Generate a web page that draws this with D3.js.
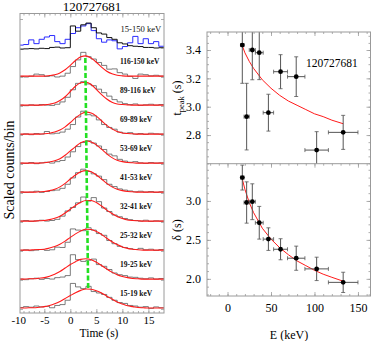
<!DOCTYPE html>
<html><head><meta charset="utf-8">
<script src="https://cdn.jsdelivr.net/npm/d3@7/dist/d3.min.js"></script>
<style>
body{margin:0;background:#fff;}
svg{display:block;}
svg text{font-family:"Liberation Serif","DejaVu Serif",serif !important;}
</style></head><body>
<svg id="chart" width="372" height="341"></svg>
<script>
// ---------------- DATA ----------------
const burstName = "120727681";
const bandLabels = ["15-19 keV","19-25 keV","25-32 keV","32-41 keV","41-53 keV","53-69 keV","69-89 keV","89-116 keV","116-150 keV"];
const totalLabel = "15-150 keV";
const binStarts = d3.range(-10, 18);          // 1 s bins, -10 .. 17
const modelT = d3.range(-10, 19);             // model curve sample times

// light curves (scaled counts per bin), bins -10..17
const hist15_19  = [0.05,0.08,0.06,0.10,0.07,0.09,0.04,0.12,0.15,0.30,0.88,0.76,0.70,0.78,0.60,0.55,0.50,0.40,0.30,0.22,0.19,0.12,0.10,0.06,0.08,0.02,0.07,0.04];
const hist19_25  = [0.03,0.01,0.04,0.06,0.02,0.05,0.03,0.08,0.10,0.15,0.87,0.70,0.64,0.68,0.72,0.53,0.47,0.36,0.24,0.18,0.15,0.10,0.09,0.06,0.04,0.07,0.03,0.05];
const hist25_32  = [0.02,0.04,0.01,0.03,0.05,0.02,0.04,0.13,0.12,0.30,0.76,0.72,0.70,0.80,0.72,0.60,0.54,0.36,0.25,0.16,0.12,0.08,0.05,0.09,0.04,0.06,0.02,0.05];
const hist32_41  = [0.03,0.05,0.02,0.04,0.06,0.03,0.05,0.09,0.20,0.38,0.50,0.66,0.86,0.72,0.84,0.70,0.48,0.36,0.24,0.18,0.12,0.08,0.05,0.03,0.06,0.02,0.04,0.03];
const hist41_53  = [0.04,0.02,0.03,0.06,0.02,0.05,0.08,0.10,0.16,0.30,0.52,0.70,0.82,0.74,0.66,0.58,0.46,0.30,0.22,0.14,0.10,0.07,0.04,0.06,0.03,0.05,0.02,0.04];
const hist53_69  = [0.03,0.02,0.05,0.01,0.04,0.06,0.03,0.08,0.12,0.24,0.42,0.60,0.74,0.80,0.72,0.62,0.50,0.34,0.28,0.16,0.10,0.06,0.08,0.04,0.02,0.05,0.03,0.04];
const hist69_89  = [0.02,0.04,0.01,0.05,0.03,0.12,0.04,0.06,0.10,0.20,0.36,0.62,0.82,0.70,0.66,0.52,0.36,0.26,0.20,0.10,0.06,0.08,0.03,0.05,0.02,0.06,0.04,0.03];
const hist89_116 = [0.03,0.01,0.04,0.02,0.05,0.03,0.02,0.06,0.14,0.30,0.56,0.78,0.84,0.76,0.70,0.58,0.46,0.34,0.22,0.14,0.08,0.05,0.07,0.02,0.04,0.06,0.03,0.05];
const hist116_150= [0.02,0.00,0.03,0.10,0.08,0.02,0.04,0.00,0.03,0.13,0.36,0.59,0.85,0.70,0.62,0.50,0.40,0.27,0.28,0.15,0.10,0.02,-0.05,0.10,0.08,0.04,0.06,0.03];
const histTotalBlack = [-0.04,-0.03,-0.02,-0.03,-0.01,-0.02,0.02,0.03,0.00,0.01,0.76,0.58,0.80,0.86,0.70,0.52,0.48,0.36,0.30,0.18,0.14,0.08,0.06,0.05,0.02,0.02,0.00,0.01];
const histTotalBlue  = [0.10,0.12,0.28,0.15,0.30,0.38,0.43,0.22,0.15,0.30,0.50,0.70,0.76,0.84,0.60,0.32,0.20,0.28,0.25,-0.03,0.05,0.18,0.40,0.15,0.32,0.15,0.22,0.06];

// pulse model curves, t = -10..18
const model15_19  = [0.03,0.03,0.04,0.04,0.06,0.08,0.12,0.18,0.26,0.36,0.46,0.56,0.64,0.69,0.68,0.63,0.55,0.44,0.34,0.24,0.17,0.11,0.08,0.05,0.04,0.03,0.03,0.03,0.03];
const model19_25  = [0.03,0.03,0.04,0.04,0.06,0.08,0.13,0.20,0.29,0.41,0.53,0.63,0.71,0.73,0.70,0.61,0.50,0.38,0.27,0.18,0.12,0.08,0.05,0.04,0.03,0.03,0.03,0.03,0.03];
const model25_32  = [0.03,0.03,0.03,0.04,0.05,0.06,0.10,0.15,0.23,0.34,0.47,0.59,0.69,0.75,0.74,0.67,0.57,0.44,0.32,0.22,0.14,0.09,0.06,0.04,0.03,0.03,0.03,0.03,0.03];
const model32_41  = [0.03,0.03,0.03,0.03,0.04,0.05,0.08,0.13,0.20,0.31,0.44,0.57,0.68,0.74,0.74,0.67,0.55,0.41,0.29,0.19,0.12,0.07,0.05,0.04,0.03,0.03,0.03,0.03,0.03];
const model41_53  = [0.03,0.03,0.03,0.03,0.04,0.05,0.08,0.13,0.21,0.33,0.48,0.62,0.73,0.77,0.73,0.62,0.48,0.33,0.21,0.13,0.08,0.05,0.04,0.03,0.03,0.03,0.03,0.03,0.03];
const model53_69  = [0.03,0.03,0.03,0.03,0.03,0.04,0.07,0.11,0.18,0.30,0.45,0.60,0.73,0.79,0.76,0.66,0.51,0.35,0.22,0.13,0.08,0.05,0.04,0.03,0.03,0.03,0.03,0.03,0.03];
const model69_89  = [0.03,0.03,0.03,0.03,0.03,0.04,0.06,0.10,0.17,0.28,0.43,0.59,0.72,0.79,0.76,0.65,0.49,0.33,0.21,0.12,0.07,0.05,0.04,0.03,0.03,0.03,0.03,0.03,0.03];
const model89_116 = [0.03,0.03,0.03,0.03,0.03,0.04,0.06,0.10,0.19,0.32,0.50,0.68,0.80,0.82,0.74,0.57,0.39,0.24,0.13,0.07,0.05,0.04,0.03,0.03,0.03,0.03,0.03,0.03,0.03];
const model116_150= [0.03,0.03,0.03,0.03,0.03,0.03,0.05,0.08,0.14,0.25,0.40,0.57,0.70,0.73,0.65,0.51,0.34,0.20,0.11,0.06,0.04,0.03,0.03,0.03,0.03,0.03,0.03,0.03,0.03];

// fitted peak time at each band (green dashed line)
const greenPeakT = [3.43,3.35,3.28,3.21,3.13,3.07,3.01,2.94,2.88];

// right panels
const energyMid  = [17,22,28.5,36.5,47,61,79,102.5,133];
const energyHalf = [2,3,3.5,4.5,6,8,10,13.5,17];
const tPeak      = [3.435,2.93,3.40,3.381,2.958,3.247,3.212,2.694,2.819];
const tPeakErr   = [0.27,0.235,0.21,0.19,0.13,0.12,0.14,0.13,0.12];
const delta      = [3.30,2.98,2.99,2.72,2.51,2.38,2.265,2.128,1.955];
const deltaErr   = [0.16,0.265,0.23,0.21,0.145,0.135,0.155,0.15,0.13];
const fitE       = [17,20,25,30,40,50,60,70,80,90,100,110,120,133];
const fitTpeak   = [3.43,3.38,3.32,3.27,3.19,3.13,3.08,3.04,3.01,2.98,2.95,2.93,2.905,2.88];
const fitDelta   = [3.28,3.15,2.98,2.85,2.65,2.51,2.40,2.31,2.23,2.17,2.11,2.06,2.02,1.97];

const timeTicks = [-10,-5,0,5,10,15];
const energyTicks = [0,50,100,150];
const tPeakTicks = [2.8,3.0,3.2,3.4];
const deltaTicks = [2.0,2.5,3.0];

// ---------------- DRAW ----------------
const FONT = "Liberation Serif";
const frameColor = "#9a9a9a";
const svg = d3.select("#chart").attr("font-family", FONT);

const bandHists = [hist15_19,hist19_25,hist25_32,hist32_41,hist41_53,hist53_69,hist69_89,hist89_116,hist116_150];
const bandModels = [model15_19,model19_25,model25_32,model32_41,model41_53,model53_69,model69_89,model89_116,model116_150];

// Left panel geometry
const L = {x0:20, x1:164, y0:13.5, y1:313};
const xT = d3.scaleLinear().domain([-9.67, 18.0]).range([L.x0, L.x1]);
const yL = d3.scaleLinear().domain([-0.14, 10.19]).range([L.y1, L.y0]);

const defs = svg.append("defs");
defs.append("clipPath").attr("id","clipL").append("rect")
  .attr("x",L.x0).attr("y",L.y0).attr("width",L.x1-L.x0).attr("height",L.y1-L.y0);

function addAxis(gen, scale, vals, size, tx, ty, fmt, fontSize, pad){
  const ax = gen(scale).tickValues(vals).tickSizeInner(-size).tickSizeOuter(0).tickPadding(pad||3);
  ax.tickFormat(fmt ? fmt : () => "");
  const g = svg.append("g").attr("transform",`translate(${tx},${ty})`).call(ax);
  g.attr("font-family", FONT);
  g.select(".domain").remove();
  g.selectAll("line").attr("stroke", frameColor).attr("stroke-width",0.8);
  g.selectAll("text").attr("font-size", fontSize||11).attr("fill","#000");
  return g;
}

const gL = svg.append("g").attr("clip-path","url(#clipL)");

function histPoints(vals){
  const pts = binStarts.map((t,i)=>[t, vals[i]]);
  pts.push([binStarts[binStarts.length-1]+1, vals[vals.length-1]]);
  return pts;
}
const stepLine = off => d3.line().x(d=>xT(d[0])).y(d=>yL(off+d[1])).curve(d3.curveStepAfter);
const smoothLine = off => d3.line().x(d=>xT(d[0])).y(d=>yL(off+d[1])).curve(d3.curveMonotoneX);

bandHists.forEach((h,k)=>{
  gL.append("path").attr("d", stepLine(k)(histPoints(h)))
    .attr("fill","none").attr("stroke","#5a5a5a").attr("stroke-width",0.8);
});
bandModels.forEach((m,k)=>{
  gL.append("path").attr("d", smoothLine(k)(modelT.map((t,i)=>[t,m[i]])))
    .attr("fill","none").attr("stroke","#ff1a1a").attr("stroke-width",1.1);
});
// top panel
gL.append("path").attr("d", stepLine(9)(histPoints(histTotalBlue)))
  .attr("fill","none").attr("stroke","#2b2bff").attr("stroke-width",1);
gL.append("path").attr("d", stepLine(9)(histPoints(histTotalBlack)))
  .attr("fill","none").attr("stroke","#111").attr("stroke-width",1);

// green dashed peak line
gL.append("path")
  .attr("d", d3.line().x(d=>xT(d[0])).y(d=>yL(d[1]))(greenPeakT.map((t,k)=>[t, k+0.72])))
  .attr("fill","none").attr("stroke","#22e022").attr("stroke-width",2.6).attr("stroke-dasharray","5,2.5");

// labels in left panel
bandLabels.forEach((lab,k)=>{
  svg.append("text").attr("x",120).attr("y",yL(k+0.45)).text(lab)
    .attr("font-size",7.5).attr("font-weight","bold").attr("fill","#111");
});
svg.append("text").attr("x",120.5).attr("y",yL(9.55)).text(totalLabel).attr("font-size",8.6).attr("fill","#111");

// left frame + ticks
svg.append("rect").attr("x",L.x0).attr("y",L.y0).attr("width",L.x1-L.x0).attr("height",L.y1-L.y0)
  .attr("fill","none").attr("stroke",frameColor).attr("stroke-width",1);
const tMinor = d3.range(-9, 19).filter(t=>xT(t)>L.x0 && xT(t)<L.x1);
addAxis(d3.axisBottom, xT, tMinor, 2, 0, L.y1);
addAxis(d3.axisTop, xT, tMinor, 2, 0, L.y0);
const gTx = addAxis(d3.axisBottom, xT, timeTicks, 4, 0, L.y1, d=>String(d), 11, 3);
gTx.selectAll(".tick").filter(d=>xT(d)<L.x0).select("line").remove();
addAxis(d3.axisTop, xT, timeTicks.filter(d=>xT(d)>L.x0), 4, 0, L.y0);
const offs = d3.range(0, 11);
addAxis(d3.axisLeft, yL, offs, 3, L.x0, 0);
addAxis(d3.axisRight, yL, offs, 3, L.x1, 0);

svg.append("text").attr("x",92).attr("y",11).attr("text-anchor","middle").attr("font-size",13).text(burstName);
svg.append("text").attr("transform","translate(14,170) rotate(-90)").attr("text-anchor","middle")
  .attr("font-size",14).text("Scaled counts/bin");
svg.append("text").attr("x",99).attr("y",337).attr("text-anchor","middle").attr("font-size",11.5).text("Time (s)");

// ---------------- Right panels ----------------
const R = {x0:207, x1:371, yTop:32, yMid:163.7, yBot:296};
const xE = d3.scaleLinear().domain([-23.6,165]).range([R.x0,R.x1]);
const yTp = d3.scaleLinear().domain([2.598,3.527]).range([R.yMid,R.yTop]);
const yD  = d3.scaleLinear().domain([1.78,3.478]).range([R.yBot,R.yMid]);

defs.append("clipPath").attr("id","clipT").append("rect")
  .attr("x",R.x0).attr("y",R.yTop).attr("width",R.x1-R.x0).attr("height",R.yMid-R.yTop);
defs.append("clipPath").attr("id","clipD").append("rect")
  .attr("x",R.x0).attr("y",R.yMid).attr("width",R.x1-R.x0).attr("height",R.yBot-R.yMid);

function drawPanel(clipId, yS, vals, errs, fitVals){
  const g = svg.append("g").attr("clip-path",`url(#${clipId})`);
  g.append("path").attr("d", d3.line().x(d=>xE(d[0])).y(d=>yS(d[1]))(fitE.map((e,i)=>[e,fitVals[i]])))
    .attr("fill","none").attr("stroke","#ff1a1a").attr("stroke-width",1);
  const ec = "#555", cap = 2;
  energyMid.forEach((e,i)=>{
    const x = xE(e), y = yS(vals[i]);
    const xa = xE(e-energyHalf[i]), xb = xE(e+energyHalf[i]);
    const ya = yS(vals[i]+errs[i]), yb = yS(vals[i]-errs[i]);
    g.append("line").attr("x1",xa).attr("x2",xb).attr("y1",y).attr("y2",y).attr("stroke",ec).attr("stroke-width",1);
    g.append("line").attr("x1",xa).attr("x2",xa).attr("y1",y-cap).attr("y2",y+cap).attr("stroke",ec).attr("stroke-width",0.8);
    g.append("line").attr("x1",xb).attr("x2",xb).attr("y1",y-cap).attr("y2",y+cap).attr("stroke",ec).attr("stroke-width",0.8);
    g.append("line").attr("x1",x).attr("x2",x).attr("y1",ya).attr("y2",yb).attr("stroke",ec).attr("stroke-width",1);
    g.append("line").attr("x1",x-cap).attr("x2",x+cap).attr("y1",ya).attr("y2",ya).attr("stroke",ec).attr("stroke-width",0.8);
    g.append("line").attr("x1",x-cap).attr("x2",x+cap).attr("y1",yb).attr("y2",yb).attr("stroke",ec).attr("stroke-width",0.8);
    g.append("circle").attr("cx",x).attr("cy",y).attr("r",2.4).attr("fill","#000");
  });
}
drawPanel("clipT", yTp, tPeak, tPeakErr, fitTpeak);
drawPanel("clipD", yD, delta, deltaErr, fitDelta);

// frames
svg.append("rect").attr("x",R.x0).attr("y",R.yTop).attr("width",R.x1-R.x0-0.5).attr("height",R.yBot-R.yTop)
  .attr("fill","none").attr("stroke",frameColor).attr("stroke-width",1);
svg.append("line").attr("x1",R.x0).attr("x2",R.x1).attr("y1",R.yMid).attr("y2",R.yMid)
  .attr("stroke",frameColor).attr("stroke-width",1);

// x ticks
const eMinor = d3.range(-20, 170, 10).filter(e=>xE(e)>R.x0 && xE(e)<R.x1);
addAxis(d3.axisBottom, xE, eMinor, 2, 0, R.yBot);
[R.yTop, R.yMid].forEach(y=>{
  addAxis(d3.axisTop, xE, eMinor, 2, 0, y);
  addAxis(d3.axisTop, xE, energyTicks, 4, 0, y);
});
addAxis(d3.axisBottom, xE, energyTicks, 4, 0, R.yBot, d=>String(d), 12, 7);

// y ticks
const tpMinor = d3.range(2.6, 3.53, 0.05);
addAxis(d3.axisLeft, yTp, tpMinor, 2, R.x0, 0);
addAxis(d3.axisRight, yTp, tpMinor, 2, R.x1-0.5, 0);
addAxis(d3.axisLeft, yTp, tPeakTicks, 4, R.x0, 0, d3.format(".1f"), 12, 6);
addAxis(d3.axisRight, yTp, tPeakTicks, 4, R.x1-0.5, 0);
const dMinor = d3.range(1.8, 3.45, 0.1);
addAxis(d3.axisLeft, yD, dMinor, 2, R.x0, 0);
addAxis(d3.axisRight, yD, dMinor, 2, R.x1-0.5, 0);
addAxis(d3.axisLeft, yD, deltaTicks, 4, R.x0, 0, d3.format(".1f"), 12, 6);
addAxis(d3.axisRight, yD, deltaTicks, 4, R.x1-0.5, 0);

// texts
svg.append("text").attr("x",306).attr("y",67).attr("font-size",11.5).text(burstName);
const tl = svg.append("text").attr("transform","translate(181,98) rotate(-90)").attr("text-anchor","middle").attr("font-size",12);
tl.append("tspan").text("t");
tl.append("tspan").attr("dy",3).attr("font-size",8.5).text("peak");
tl.append("tspan").attr("dy",-3).text(" (s)");
svg.append("text").attr("transform","translate(181,230) rotate(-90)").attr("text-anchor","middle").attr("font-size",12).text("δ (s)");
svg.append("text").attr("x",289).attr("y",339).attr("text-anchor","middle").attr("font-size",12).text("E (keV)");
</script></body></html>
